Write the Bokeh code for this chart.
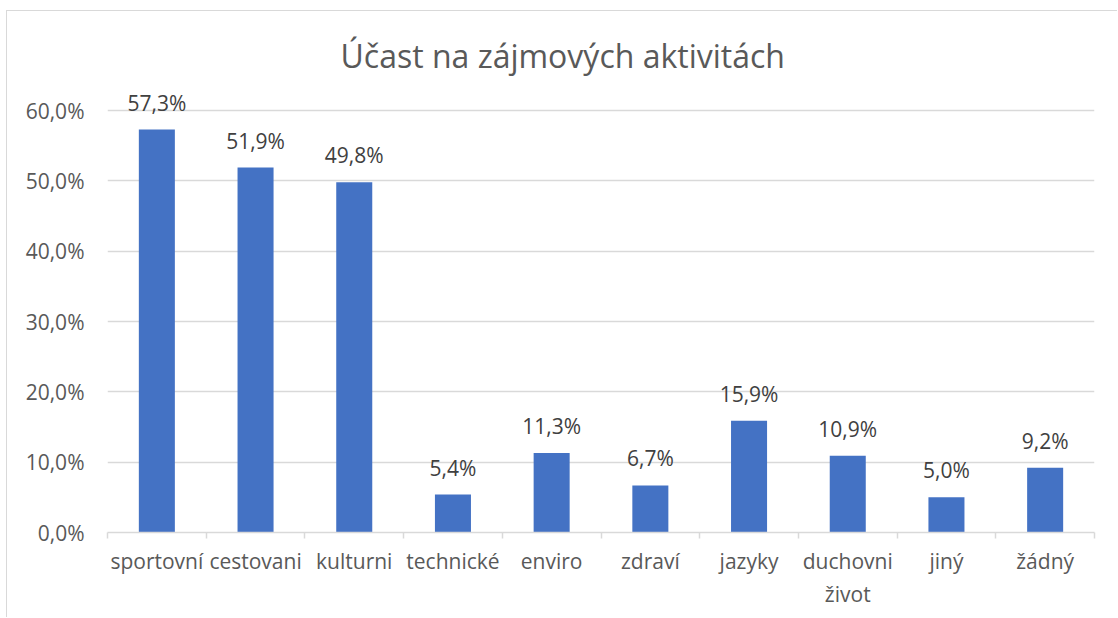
from bokeh.plotting import figure
from bokeh.models import ColumnDataSource, FixedTicker, Range1d, Title
from bokeh.core.properties import value
from bokeh.embed import file_html
from bokeh.resources import INLINE

categories = ["sportovní", "cestovani", "kulturni", "technické", "enviro",
              "zdraví", "jazyky", "duchovni\nživot", "jiný", "žádný"]
values = [57.3, 51.9, 49.8, 5.4, 11.3, 6.7, 15.9, 10.9, 5.0, 9.2]
y_ticks = [0, 10, 20, 30, 40, 50, 60]
y_tick_labels = ["0,0%", "10,0%", "20,0%", "30,0%", "40,0%", "50,0%", "60,0%"]
title_text = "Účast na zájmových aktivitách"

FONT = "Open Sans"
x_centers = [i + 0.5 for i in range(len(categories))]
labels = [f"{v:.1f}".replace(".", ",") + "%" for v in values]
src = ColumnDataSource(dict(x=x_centers, top=values, label=labels))

p = figure(width=1111, height=607, output_backend="svg", toolbar_location=None,
           x_range=Range1d(0, len(categories)), y_range=Range1d(0, 64),
           min_border_left=100, min_border_right=24, min_border_top=71,
           min_border_bottom=86)
p.outline_line_color = None
p.styles = {"border-left": "1px solid #d9d9d9", "border-top": "1px solid #d9d9d9",
            "margin-left": "6px", "margin-top": "10px"}

t = Title(text=title_text, align="left", text_font=FONT, text_font_size="32px",
          text_font_style="normal", text_color="#595959", standoff=11, offset=233)
p.add_layout(t, "above")

p.vbar(x="x", top="top", width=0.365, bottom=0, source=src,
       fill_color="#4472C4", line_color=None)
p.text(x="x", y="top", text="label", source=src, y_offset=-27,
       text_align="center", text_baseline="alphabetic",
       text_font=value(FONT), text_font_size="21px", text_color="#404040")

# y axis
p.yaxis.ticker = FixedTicker(ticks=y_ticks)
p.yaxis.major_label_overrides = {t_: l for t_, l in zip(y_ticks, y_tick_labels)}
p.yaxis.axis_line_color = None
p.yaxis.major_tick_line_color = None
p.yaxis.minor_tick_line_color = None
p.yaxis.major_label_standoff = 17
p.yaxis.major_label_text_font = FONT
p.yaxis.major_label_text_font_size = "21px"
p.yaxis.major_label_text_color = "#595959"

# x axis
p.xaxis.ticker = FixedTicker(ticks=x_centers, minor_ticks=list(range(len(categories) + 1)))
p.xaxis.major_label_overrides = {c: l for c, l in zip(x_centers, categories)}
p.xaxis.axis_line_color = "#d9d9d9"
p.xaxis.axis_line_width = 1.5
p.xaxis.major_tick_line_color = None
p.xaxis.minor_tick_line_color = "#d9d9d9"
p.xaxis.minor_tick_line_width = 1.5
p.xaxis.minor_tick_out = 6
p.xaxis.minor_tick_in = 0
p.xaxis.major_label_standoff = 8
p.xaxis.major_label_text_font = FONT
p.xaxis.major_label_text_font_size = "21px"
p.xaxis.major_label_text_color = "#595959"

p.xgrid.grid_line_color = None
p.ygrid.grid_line_color = "#d9d9d9"
p.ygrid.grid_line_width = 1.5

open("out.html", "w").write(file_html(p, INLINE))
